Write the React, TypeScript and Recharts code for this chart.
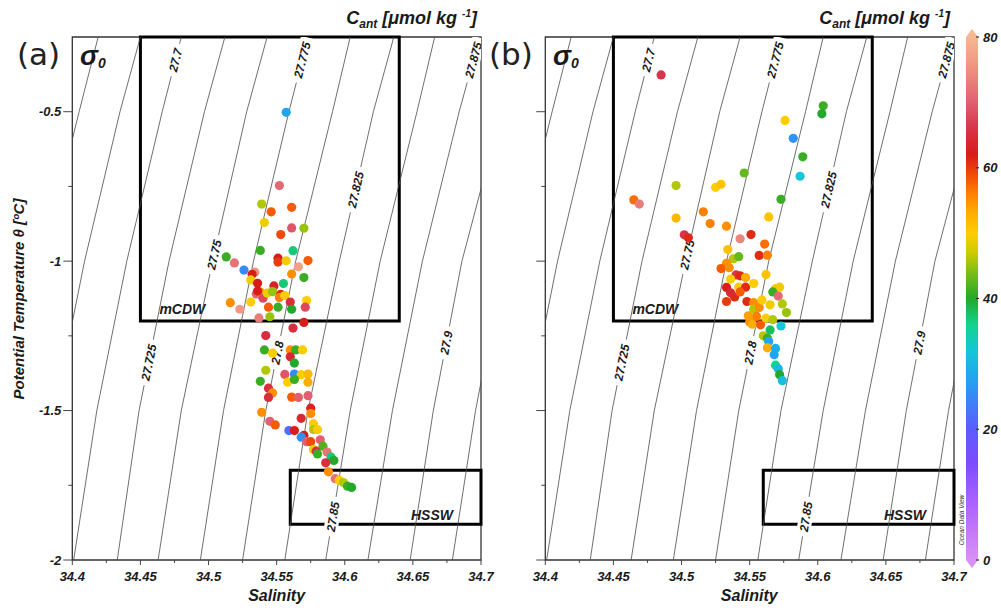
import { ScatterChart, Scatter, XAxis, YAxis, ReferenceArea } from "recharts";

const FONT = "'Liberation Sans', Arial, sans-serif";
const INK = "#1a1a1a";

// axis ticks
const X_TICKS = [34.4, 34.425, 34.45, 34.475, 34.5, 34.525, 34.55, 34.575, 34.6, 34.625, 34.65, 34.675, 34.7];
const Y_TICKS = [-2, -1.75, -1.5, -1.25, -1, -0.75, -0.5];
const CB_TICKS = [0, 20, 40, 60, 80];

// isopycnals (sigma0), salinity at each temperature
const ISO_LEVELS = ["27.65", "27.675", "27.7", "27.725", "27.75", "27.775", "27.8", "27.825", "27.85", "27.875", "27.9", "27.925"];
const ISO_TEMPS = [-2, -1.5, -1, -0.5, -0.25];
const ISO_SAL = [
  [34.34, 34.357, 34.378, 34.405, 34.419],
  [34.37, 34.387, 34.409, 34.435, 34.45],
  [34.401, 34.418, 34.44, 34.466, 34.48],
  [34.433, 34.449, 34.471, 34.497, 34.512],
  [34.463, 34.48, 34.503, 34.528, 34.543],
  [34.494, 34.511, 34.533, 34.559, 34.573],
  [34.525, 34.542, 34.564, 34.591, 34.604],
  [34.556, 34.573, 34.596, 34.621, 34.636],
  [34.586, 34.604, 34.626, 34.653, 34.666],
  [34.617, 34.635, 34.657, 34.684, 34.699],
  [34.648, 34.665, 34.686, 34.715, 34.729],
  [34.679, 34.696, 34.717, 34.745, 34.76],
];
// where the contour labels sit (temperature along the contour)
const LABEL_LEVELS = ["27.7", "27.775", "27.875", "27.825", "27.75", "27.725", "27.8", "27.9", "27.85"];
const LABEL_TEMPS = [-0.327, -0.327, -0.327, -0.761, -0.978, -1.339, -1.306, -1.273, -1.855];

// water mass boxes [S1, S2, T1, T2]
const MCDW_BOX = [34.45, 34.64, -1.2, -0.25];
const HSSW_BOX = [34.56, 34.7, -1.88, -1.7];

// panel (a)
const A_SAL = [34.557, 34.552, 34.539, 34.546, 34.561, 34.541, 34.561, 34.57, 34.553, 34.538, 34.562, 34.513, 34.519, 34.526, 34.551, 34.551, 34.557, 34.573, 34.566, 34.534, 34.532, 34.561, 34.57, 34.531, 34.536, 34.548, 34.555, 34.535, 34.538, 34.536, 34.54, 34.543, 34.547, 34.553, 34.552, 34.556, 34.516, 34.523, 34.531, 34.544, 34.551, 34.56, 34.561, 34.572, 34.571, 34.537, 34.545, 34.562, 34.57, 34.542, 34.541, 34.547, 34.56, 34.564, 34.569, 34.56, 34.563, 34.542, 34.556, 34.563, 34.568, 34.573, 34.538, 34.558, 34.563, 34.573, 34.544, 34.547, 34.544, 34.561, 34.566, 34.573, 34.575, 34.539, 34.575, 34.568, 34.545, 34.549, 34.577, 34.577, 34.58, 34.559, 34.563, 34.57, 34.568, 34.572, 34.575, 34.582, 34.584, 34.577, 34.579, 34.58, 34.587, 34.59, 34.592, 34.586, 34.588, 34.593, 34.596, 34.599, 34.602, 34.605];
const A_TEMP = [-0.502, -0.747, -0.809, -0.835, -0.82, -0.871, -0.889, -0.89, -0.911, -0.964, -0.965, -0.986, -1.006, -1.03, -0.99, -1.003, -0.999, -0.998, -1.019, -1.037, -1.044, -1.043, -1.055, -1.063, -1.074, -1.083, -1.075, -1.11, -1.104, -1.1, -1.124, -1.107, -1.102, -1.111, -1.122, -1.115, -1.139, -1.161, -1.137, -1.154, -1.154, -1.137, -1.161, -1.132, -1.154, -1.19, -1.186, -1.224, -1.205, -1.249, -1.297, -1.308, -1.297, -1.297, -1.297, -1.32, -1.341, -1.365, -1.379, -1.378, -1.38, -1.378, -1.402, -1.405, -1.396, -1.405, -1.425, -1.441, -1.456, -1.455, -1.456, -1.45, -1.492, -1.506, -1.51, -1.526, -1.536, -1.548, -1.544, -1.563, -1.564, -1.567, -1.567, -1.583, -1.589, -1.604, -1.604, -1.598, -1.619, -1.63, -1.636, -1.645, -1.639, -1.656, -1.667, -1.675, -1.705, -1.728, -1.733, -1.741, -1.753, -1.757];
const A_CANT = [28, 71, 46, 58, 58, 49, 69, 45, 59, 41, 37, 41, 72, 25, 62, 60, 49, 58, 77, 75, 62, 55, 41, 49, 62, 63, 37, 71, 55, 62, 68, 49, 45, 61, 56, 50, 55, 76, 50, 58, 41, 65, 40, 50, 68, 73, 45, 65, 62, 65, 41, 50, 55, 41, 50, 64, 40, 46, 69, 25, 50, 52, 41, 50, 41, 53, 65, 55, 65, 58, 70, 70, 63, 55, 55, 64, 70, 58, 50, 46, 50, 22, 62, 62, 26, 70, 59, 70, 42, 49, 65, 41, 72, 37, 40, 65, 55, 72, 50, 46, 41, 40];

// panel (b)
const B_SAL = [34.485, 34.604, 34.603, 34.576, 34.582, 34.589, 34.587, 34.546, 34.496, 34.525, 34.529, 34.573, 34.465, 34.469, 34.496, 34.516, 34.521, 34.533, 34.564, 34.502, 34.505, 34.543, 34.551, 34.561, 34.534, 34.538, 34.542, 34.557, 34.563, 34.533, 34.529, 34.535, 34.562, 34.54, 34.543, 34.547, 34.536, 34.533, 34.542, 34.547, 34.553, 34.569, 34.572, 34.567, 34.571, 34.533, 34.539, 34.548, 34.553, 34.553, 34.557, 34.574, 34.577, 34.55, 34.552, 34.555, 34.558, 34.562, 34.565, 34.573, 34.56, 34.563, 34.564, 34.563, 34.569, 34.568, 34.569, 34.571, 34.572, 34.574, 34.543, 34.536, 34.559, 34.565, 34.549, 34.567];
const B_TEMP = [-0.377, -0.48, -0.507, -0.529, -0.589, -0.651, -0.716, -0.705, -0.747, -0.753, -0.743, -0.793, -0.795, -0.809, -0.856, -0.835, -0.874, -0.883, -0.852, -0.912, -0.922, -0.925, -0.911, -0.943, -0.961, -0.992, -0.985, -0.981, -0.98, -1.007, -1.025, -1.022, -1.045, -1.046, -1.049, -1.055, -1.06, -1.088, -1.087, -1.087, -1.075, -1.092, -1.087, -1.103, -1.117, -1.135, -1.12, -1.135, -1.139, -1.161, -1.155, -1.143, -1.172, -1.204, -1.211, -1.185, -1.213, -1.191, -1.23, -1.217, -1.25, -1.258, -1.269, -1.29, -1.292, -1.313, -1.348, -1.36, -1.38, -1.4, -1.103, -1.106, -1.13, -1.146, -1.183, -1.196];
const B_CANT = [66, 41, 40, 50, 26, 41, 32, 43, 46, 50, 51, 41, 57, 73, 52, 56, 56, 55, 51, 66, 61, 74, 61, 57, 51, 46, 43, 61, 56, 55, 58, 55, 51, 66, 61, 53, 50, 62, 50, 61, 50, 50, 49, 41, 71, 60, 61, 61, 55, 46, 55, 46, 45, 55, 53, 56, 58, 50, 38, 32, 46, 41, 28, 53, 29, 28, 36, 30, 40, 31, 58, 64, 50, 49, 54, 46];

// Ocean Data View style palette
const PALETTE: [number, string][] = [
  [0, "#da90f4"], [8, "#b065ff"], [15, "#7c4cff"], [20, "#5a5cff"], [24, "#3f80f8"],
  [28, "#20a6f0"], [32, "#14c6d8"], [36, "#12d48e"], [40, "#22a82a"], [44, "#7cbe16"],
  [47, "#cccc00"], [50, "#ffcc00"], [53, "#ffae00"], [56, "#ff8000"], [59, "#f04a08"],
  [62, "#d81c18"], [66, "#d8344a"], [70, "#e06070"], [75, "#ee9080"], [80, "#f8b890"],
];

function hexToRgb(h: string) {
  const n = parseInt(h.slice(1), 16);
  return [(n >> 16) & 255, (n >> 8) & 255, n & 255];
}

function cantColor(v: number) {
  const c = Math.max(0, Math.min(80, v));
  for (let i = 0; i < PALETTE.length - 1; i++) {
    const [v0, h0] = PALETTE[i];
    const [v1, h1] = PALETTE[i + 1];
    if (c >= v0 && c <= v1) {
      const f = (c - v0) / (v1 - v0);
      const a = hexToRgb(h0);
      const b = hexToRgb(h1);
      const m = a.map((x, k) => Math.round(x + (b[k] - x) * f));
      return `rgb(${m[0]},${m[1]},${m[2]})`;
    }
  }
  return PALETTE[PALETTE.length - 1][1];
}

// pixel scale of the plot area, used only for label rotation
const PX_PER_S = 409 / 0.3;
const PX_PER_T = 523 / 1.75;

function salAt(row: number[], t: number) {
  for (let i = 0; i < ISO_TEMPS.length - 1; i++) {
    if (t >= ISO_TEMPS[i] && t <= ISO_TEMPS[i + 1]) {
      const f = (t - ISO_TEMPS[i]) / (ISO_TEMPS[i + 1] - ISO_TEMPS[i]);
      return { s: row[i] + (row[i + 1] - row[i]) * f, slope: (row[i + 1] - row[i]) / (ISO_TEMPS[i + 1] - ISO_TEMPS[i]) };
    }
  }
  return { s: row[0], slope: 0 };
}

const isoLines = ISO_LEVELS.map((lv, k) => ({
  level: lv,
  pts: ISO_TEMPS.map((t, i) => ({ s: ISO_SAL[k][i], t })),
}));

const isoLabels = LABEL_LEVELS.map((lv, i) => {
  const row = ISO_SAL[ISO_LEVELS.indexOf(lv)];
  const { s, slope } = salAt(row, LABEL_TEMPS[i]);
  const angle = -(Math.atan2(PX_PER_T, slope * PX_PER_S) * 180) / Math.PI;
  return { s, t: LABEL_TEMPS[i], text: lv, angle };
});

const dotsA = A_SAL.map((s, i) => ({ s, t: A_TEMP[i], c: A_CANT[i] }));
const dotsB = B_SAL.map((s, i) => ({ s, t: B_TEMP[i], c: B_CANT[i] }));
const cbPoints = CB_TICKS.map((v) => ({ x: 0.5, y: v }));

const bold = { fontFamily: FONT, fontWeight: "bold" as const, fontStyle: "italic" as const, fill: INK };

function XTick(props: any) {
  const { x, y, payload } = props;
  const v = payload.value;
  const major = Math.round(v * 1000) % 50 === 0;
  return (
    <g>
      <line x1={x} x2={x} y1={y} y2={y + (major ? 5 : 3)} stroke="#444" strokeWidth={1} />
      {major && (
        <text x={x} y={y + 21} textAnchor="middle" fontSize={13} {...bold}>
          {String(v)}
        </text>
      )}
    </g>
  );
}

function YTick(props: any) {
  const { x, y, payload, showLabel } = props;
  const v = payload.value;
  const major = Math.abs(Math.round(v * 100)) % 50 === 0;
  return (
    <g>
      <line x1={x - (major ? 9 : 4)} x2={x} y1={y} y2={y} stroke="#444" strokeWidth={1} />
      {major && showLabel && (
        <text x={x - 11} y={y + 4.5} textAnchor="end" fontSize={13} {...bold}>
          {String(v)}
        </text>
      )}
    </g>
  );
}

const NoShape = () => <g />;

function IsoLabel(props: any) {
  const { cx, cy, payload } = props;
  const w = payload.text.length * 6.4 + 8;
  return (
    <g transform={`translate(${cx},${cy}) rotate(${payload.angle})`}>
      <rect x={-w / 2} y={-7} width={w} height={14} fill="#fff" />
      <text x={0} y={4.3} textAnchor="middle" fontSize={12} {...bold}>
        {payload.text}
      </text>
    </g>
  );
}

function DataDot(props: any) {
  const { cx, cy, payload } = props;
  return <circle cx={cx} cy={cy} r={4.6} fill={cantColor(payload.c)} />;
}

function BoxText(props: any, text: string, where: "left" | "right") {
  const vb = props.viewBox || {};
  const x = where === "left" ? vb.x + 19 : vb.x + vb.width - 28;
  const y = vb.y + vb.height - (where === "left" ? 6.5 : 4);
  return (
    <text x={x} y={y} textAnchor={where === "left" ? "start" : "end"} fontSize={14} {...bold}>
      {text}
    </text>
  );
}

function TSPanel({ dots, showLabels }: { dots: { s: number; t: number; c: number }[]; showLabels: boolean }) {
  return (
    <ScatterChart width={500} height={610} margin={{ top: 37, right: 19, bottom: 10, left: 12 }}>
      <XAxis
        type="number"
        dataKey="s"
        domain={[34.4, 34.7]}
        ticks={X_TICKS}
        interval={0}
        allowDataOverflow
        height={40}
        axisLine={false}
        tickLine={false}
        tickSize={0}
        tickMargin={0}
        tick={<XTick />}
      />
      <YAxis
        type="number"
        dataKey="t"
        domain={[-2, -0.25]}
        ticks={Y_TICKS}
        interval={0}
        allowDataOverflow
        width={60.3}
        axisLine={false}
        tickLine={false}
        tickSize={0}
        tickMargin={0}
        tick={<YTick showLabel={showLabels} />}
      />
      {isoLines.map((ln) => (
        <Scatter
          key={ln.level}
          data={ln.pts}
          line={{ stroke: "#4a4a4a", strokeWidth: 0.8 }}
          lineType="joint"
          shape={NoShape}
          isAnimationActive={false}
        />
      ))}
      <Scatter data={isoLabels} shape={IsoLabel} isAnimationActive={false} />
      <ReferenceArea x1={34.4} x2={34.7} y1={-2} y2={-0.25} fill="none" fillOpacity={0} stroke="#333" strokeWidth={1.3} />
      <ReferenceArea
        x1={MCDW_BOX[0]}
        x2={MCDW_BOX[1]}
        y1={MCDW_BOX[2]}
        y2={MCDW_BOX[3]}
        fill="none"
        fillOpacity={0}
        stroke="#000"
        strokeWidth={3}
        label={(p: any) => BoxText(p, "mCDW", "left")}
      />
      <ReferenceArea
        x1={HSSW_BOX[0]}
        x2={HSSW_BOX[1]}
        y1={HSSW_BOX[2]}
        y2={HSSW_BOX[3]}
        fill="none"
        fillOpacity={0}
        stroke="#000"
        strokeWidth={3}
        label={(p: any) => BoxText(p, "HSSW", "right")}
      />
      <Scatter data={dots} shape={DataDot} isAnimationActive={false} />
    </ScatterChart>
  );
}

function ColorBarShape(props: any) {
  const { x, y, width, height } = props;
  return (
    <g>
      <defs>
        <linearGradient id="cantGrad" x1="0" y1="1" x2="0" y2="0">
          {PALETTE.map(([v, c]) => (
            <stop key={v} offset={`${(v / 80) * 100}%`} stopColor={c} />
          ))}
        </linearGradient>
      </defs>
      <rect x={x} y={y} width={width} height={height} fill="url(#cantGrad)" />
      <polygon points={`${x},${y} ${x + width},${y} ${x + width / 2},${y - 8}`} fill={PALETTE[PALETTE.length - 1][1]} />
      <polygon points={`${x},${y + height} ${x + width},${y + height} ${x + width / 2},${y + height + 8}`} fill={PALETTE[0][1]} />
    </g>
  );
}

function CbTick(props: any) {
  const { x, y, payload } = props;
  return (
    <g>
      <line x1={x - 2} x2={x + 1} y1={y} y2={y} stroke="#333" strokeWidth={1.2} />
      <text x={x + 5} y={y + 4.5} fontSize={13} {...bold}>
        {payload.value}
      </text>
    </g>
  );
}

function ColorBar() {
  return (
    <ScatterChart width={47} height={610} margin={{ top: 37, right: 0, bottom: 50, left: 12 }}>
      <XAxis type="number" dataKey="x" domain={[0, 1]} hide />
      <YAxis
        orientation="right"
        type="number"
        dataKey="y"
        domain={[0, 80]}
        ticks={CB_TICKS}
        interval={0}
        width={23}
        axisLine={false}
        tickLine={false}
        tickSize={0}
        tickMargin={0}
        tick={<CbTick />}
      />
      <ReferenceArea x1={0} x2={1} y1={0} y2={80} shape={ColorBarShape} ifOverflow="visible" />
      <Scatter data={cbPoints} shape={NoShape} isAnimationActive={false} />
    </ScatterChart>
  );
}

function Title({ right }: { right: number }) {
  return (
    <text x={right} y={24} textAnchor="end" fontSize={18} {...bold}>
      C
      <tspan fontSize={12} dy={4}>ant</tspan>
      <tspan dy={-4}> [μmol kg </tspan>
      <tspan fontSize={10} dy={-7}>-1</tspan>
      <tspan dy={7}>]</tspan>
    </text>
  );
}

function Sigma({ left }: { left: number }) {
  return (
    <text x={left} y={65} fontSize={27} {...bold}>
      σ<tspan fontSize={14} dy={3}>0</tspan>
    </text>
  );
}

export default function App() {
  return (
    <div style={{ position: "absolute", left: 0, top: 0, width: 1001, height: 610, background: "#fff", overflow: "hidden" }}>
      <div style={{ position: "absolute", left: 0, top: 0 }}>
        <TSPanel dots={dotsA} showLabels />
      </div>
      <div style={{ position: "absolute", left: 472.7, top: 0 }}>
        <TSPanel dots={dotsB} showLabels={false} />
      </div>
      <div style={{ position: "absolute", left: 954, top: 0 }}>
        <ColorBar />
      </div>
      <svg width={1001} height={610} style={{ position: "absolute", left: 0, top: 0, pointerEvents: "none" }}>
        <text x={17} y={65} fontFamily="'DejaVu Sans', sans-serif" fontSize={31} fill="#222">(a)</text>
        <text x={489} y={65} fontFamily="'DejaVu Sans', sans-serif" fontSize={31} fill="#222">(b)</text>
        <Sigma left={80} />
        <Sigma left={553} />
        <Title right={477} />
        <Title right={950} />
        <text transform="translate(24,299) rotate(-90)" textAnchor="middle" fontSize={15} {...bold}>
          Potential Temperature θ [ºC]
        </text>
        <text x={276.6} y={601} textAnchor="middle" fontSize={16} {...bold}>Salinity</text>
        <text x={749.3} y={601} textAnchor="middle" fontSize={16} {...bold}>Salinity</text>
        <text transform="translate(964,520) rotate(-90)" textAnchor="middle" fontFamily={FONT} fontStyle="italic" fontSize={6.5} fill="#333">
          Ocean Data View
        </text>
      </svg>
    </div>
  );
}
